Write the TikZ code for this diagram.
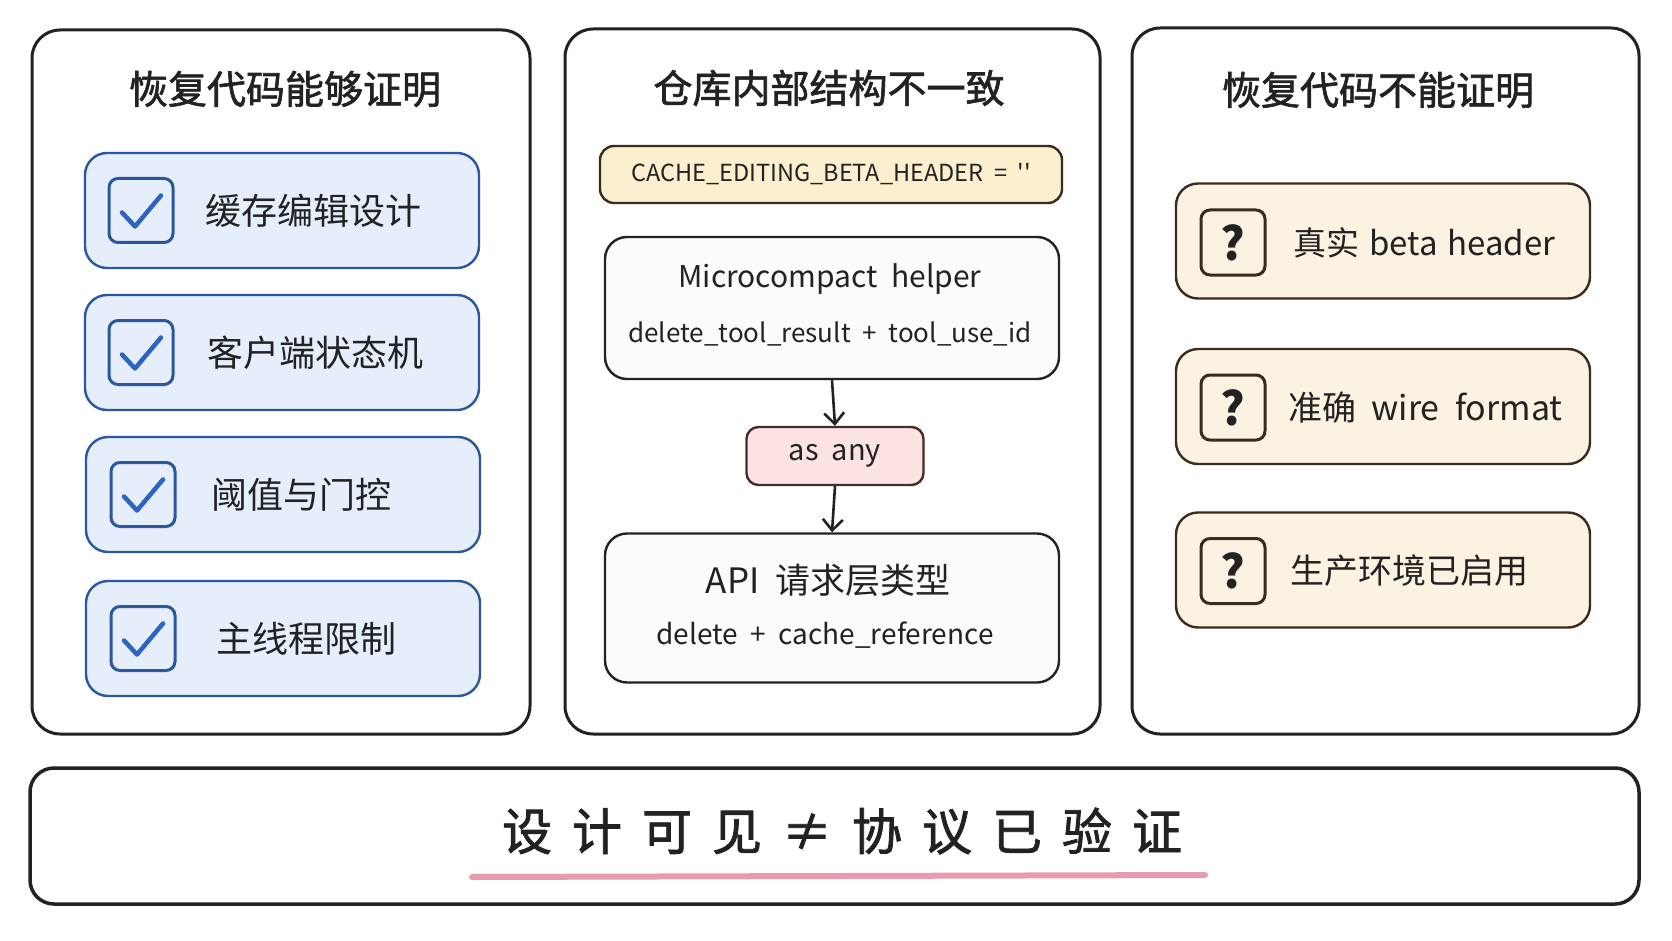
\documentclass[tikz,border=0pt]{standalone}
\usepackage{fontspec}
\setmainfont{Noto Sans CJK SC}
\newfontfamily\codefont[Ligatures=TeXOff]{Noto Sans CJK SC}
\newfontfamily\headfont[FakeBold=1.6]{Noto Sans CJK SC}
\usetikzlibrary{arrows.meta}
\definecolor{ink}{HTML}{222222}
\definecolor{bluefill}{HTML}{E6EEFB}
\definecolor{blueline}{HTML}{2A57A0}
\definecolor{bluecheck}{HTML}{2F63C0}
\definecolor{yelfill}{HTML}{FBEFCF}
\definecolor{brownline}{HTML}{3A2C1C}
\definecolor{pinkfill}{HTML}{FBE3E3}
\definecolor{pinkline}{HTML}{4A2A2A}
\definecolor{creamfill}{HTML}{FCF2E1}
\definecolor{underpink}{HTML}{E89AAE}
\definecolor{boxfill}{HTML}{FBFBFB}
\newcommand{\fs}[1]{\fontsize{#1pt}{#1pt}\selectfont}
\newcommand{\gap}{\hspace{0.45em}}
\begin{document}
\begin{tikzpicture}[x=1pt,y=-1pt,
  panel/.style={draw=ink, line width=3pt, rounded corners=28pt, fill=white, inner sep=0pt},
  title/.style={font=\headfont\fs{39}, text=ink, inner sep=0pt},
  bluebox/.style={draw=blueline, line width=2.4pt, rounded corners=22pt, fill=bluefill, minimum width=394pt, minimum height=115pt, inner sep=0pt},
  chk/.style={draw=blueline, line width=3pt, rounded corners=9pt, fill=bluefill, minimum width=64pt, minimum height=64pt, inner sep=0pt},
  checkline/.style={draw=bluecheck, line width=4.5pt, line cap=round, line join=round},
  ltext/.style={font=\fs{36}, text=ink, anchor=west, inner sep=0pt},
  creambox/.style={draw=brownline, line width=2.4pt, rounded corners=22pt, fill=creamfill, minimum width=414pt, minimum height=115pt, inner sep=0pt},
  qbox/.style={draw=brownline, line width=3pt, rounded corners=9pt, fill=creamfill, minimum width=64pt, minimum height=65pt, inner sep=0pt, font=\fs{46}\bfseries, text=ink},
  rtext/.style={font=\fs{34}, text=ink, anchor=west, inner sep=0pt},
  codebox/.style={draw=ink, line width=2.4pt, rounded corners=22pt, fill=boxfill, inner sep=0pt},
  arr/.style={draw=ink, line width=2.6pt, -{Straight Barb[length=11pt,width=20pt,line width=2.6pt]}}
]
\useasboundingbox (0,0) rectangle (1672,941);
\fill[white] (0,0) rectangle (1672,941);

% panels
\node[panel, minimum width=498pt, minimum height=704pt] (pL) at (281,382) {};
\node[panel, minimum width=535pt, minimum height=705pt] (pM) at (832.5,381.5) {};
\node[panel, minimum width=507pt, minimum height=706pt] (pR) at (1385.5,381) {};

% titles
\node[title] (tL) at (285,89) {恢复代码能够证明};
\node[title] (tM) at (829,88) {仓库内部结构不一致};
\node[title] (tR) at (1378,90) {恢复代码不能证明};

% left boxes
\node[bluebox] (b1) at (282,210.5) {};
\node[bluebox] (b2) at (282,352.5) {};
\node[bluebox] (b3) at (283,494.5) {};
\node[bluebox] (b4) at (283,638.5) {};
\node[chk] (c1) at (141,210.5) {};
\node[chk] (c2) at (141,352.5) {};
\node[chk] (c3) at (143,494.5) {};
\node[chk] (c4) at (143,638.5) {};
\foreach \c in {c1,c2,c3,c4}{
  \draw[checkline] ([shift={(-19,2)}]\c.center) -- ([shift={(-6,16)}]\c.center) -- ([shift={(20,-15)}]\c.center);
}
\node[ltext] (l1) at (205,211) {缓存编辑设计};
\node[ltext] (l2) at (207,353) {客户端状态机};
\node[ltext] (l3) at (211,495) {阈值与门控};
\node[ltext] (l4) at (216,639) {主线程限制};

% middle
\node[draw=brownline, line width=2.4pt, rounded corners=14pt, fill=yelfill, minimum width=462pt, minimum height=57pt, inner sep=0pt, font=\fs{23.5}\codefont, text=ink] (hdr) at (831,174.5) {CACHE\_EDITING\_BETA\_HEADER\gap=\gap''};
\node[codebox, minimum width=454pt, minimum height=142pt] (helper) at (832,308) {};
\node[font=\fs{30}, text=ink, inner sep=0pt] (helperT) at (830,279) {Microcompact\gap helper};
\node[font=\fs{26}, text=ink, inner sep=0pt] (helperS) at (830,334) {delete\_tool\_result\gap+\gap tool\_use\_id};
\node[draw=pinkline, line width=2.4pt, rounded corners=12pt, fill=pinkfill, minimum width=177pt, minimum height=58pt, inner sep=0pt, font=\fs{29}, text=ink] (asany) at (835,456) {as\gap any};
\node[codebox, minimum width=454pt, minimum height=149pt] (api) at (832,608) {};
\node[font=\fs{35}, text=ink, inner sep=0pt] (apiT) at (828,580) {API\gap 请求层类型};
\node[font=\fs{28}, text=ink, inner sep=0pt] (apiS) at (825,635) {delete\gap+\gap cache\_reference};
\draw[arr] (helper.south) -- (asany.north);
\draw[arr] (asany.south) -- (api.north);

% right
\node[creambox] (r1) at (1383,241) {};
\node[creambox] (r2) at (1383,406.5) {};
\node[creambox] (r3) at (1383,570) {};
\node[qbox] (q1) at (1233,242.5) {?};
\node[qbox] (q2) at (1233,407.5) {?};
\node[qbox] (q3) at (1233,571) {?};
\node[rtext, font=\fs{33}] (t1) at (1293,243) {真实\hspace{0.3em}beta\hspace{0.3em}header};
\node[rtext] (t2) at (1288,408) {准确\gap wire\gap format};
\node[rtext] (t3) at (1290,571) {生产环境已启用};

% banner
\node[draw=ink, line width=3.5pt, rounded corners=24pt, fill=white, minimum width=1609pt, minimum height=136pt, inner sep=0pt] (banner) at (834.5,836) {};
\node[font=\headfont\fs{50}, text=ink, inner sep=0pt] (slogan) at (842,831) {设\hspace{20pt}计\hspace{20pt}可\hspace{20pt}见\hspace{20pt}≠\hspace{20pt}协\hspace{20pt}议\hspace{20pt}已\hspace{20pt}验\hspace{20pt}证};
\coordinate (u1) at (472,877);
\coordinate (u2) at (1205,875);
\draw[underpink, line width=6pt, line cap=round] (u1) -- (u2);
\end{tikzpicture}
\end{document}
